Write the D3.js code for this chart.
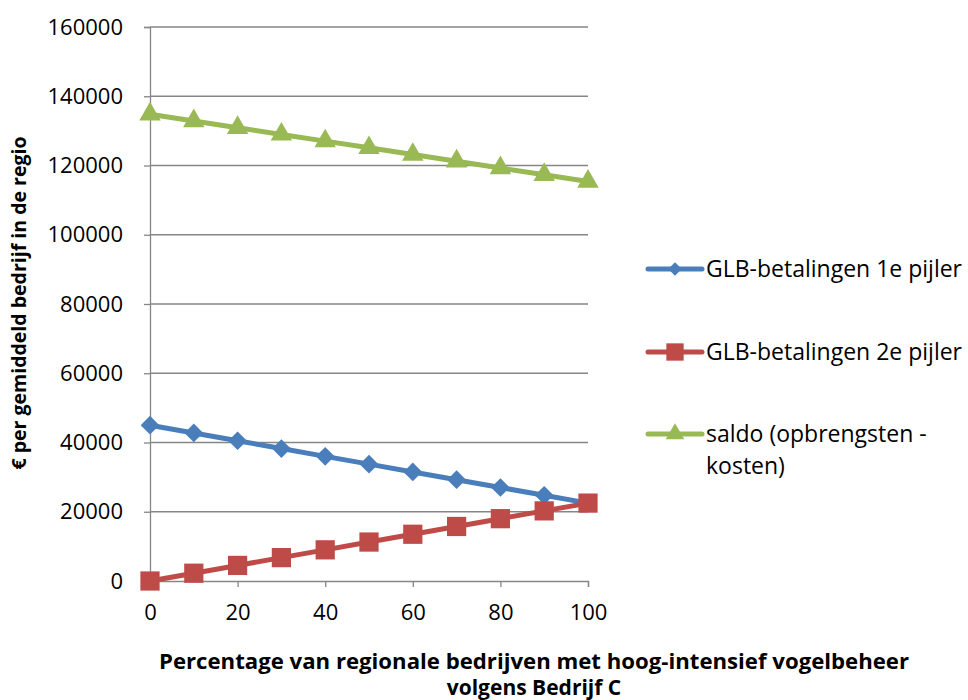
<!DOCTYPE html>
<html>
<head>
<meta charset="utf-8">
<script src="https://cdn.jsdelivr.net/npm/d3@7/dist/d3.min.js"></script>
<style>
  body { margin: 0; background: #fff; }
  svg { display: block; }
  svg text { font-family: "Open Sans", "Liberation Sans", sans-serif; }
</style>
</head>
<body>
<svg id="chart" width="968" height="700"></svg>
<script>
// Share of regional farms with high-intensity bird management (%)
const percentages = [0, 10, 20, 30, 40, 50, 60, 70, 80, 90, 100];
// CAP payments, pillar 1 (EUR per average farm)
const pillar1 = [45000, 42750, 40500, 38250, 36000, 33750, 31500, 29250, 27000, 24750, 22500];
// CAP payments, pillar 2 (EUR per average farm)
const pillar2 = [0, 2250, 4500, 6750, 9000, 11250, 13500, 15750, 18000, 20250, 22500];
// Balance: revenue minus costs (EUR per average farm)
const saldo = [134800, 132860, 130920, 128980, 127040, 125100, 123160, 121220, 119280, 117340, 115400];

const yTicks = [0, 20000, 40000, 60000, 80000, 100000, 120000, 140000, 160000];
const xTicks = [0, 20, 40, 60, 80, 100];

const seriesNames = ["GLB-betalingen 1e pijler", "GLB-betalingen 2e pijler", "saldo (opbrengsten -"];
const seriesList = [
  { name: seriesNames[0], values: pillar1, color: "#4a7ebb", symbol: d3.symbolSquare, size: 175, rot: 45, legendSize: 90 },
  { name: seriesNames[1], values: pillar2, color: "#be4b48", symbol: d3.symbolSquare, size: 370, rot: 0, legendSize: 300 },
  { name: seriesNames[2], values: saldo,   color: "#98b954", symbol: d3.symbolTriangle, size: 200, rot: 0, legendSize: 150 }
];

const svg = d3.select("#chart");
const plot = { left: 150, right: 588, top: 27, bottom: 581 };

const x = d3.scaleLinear().domain([0, 100]).range([plot.left, plot.right]);
const y = d3.scaleLinear().domain([0, 160000]).range([plot.bottom, plot.top]);

const axisColor = "#868686";
const fontFamily = '"Open Sans", "Liberation Sans", sans-serif';

// Horizontal gridlines
svg.append("g")
  .selectAll("line")
  .data(yTicks.filter(d => d > 0))
  .join("line")
  .attr("x1", plot.left).attr("x2", plot.right)
  .attr("y1", d => y(d)).attr("y2", d => y(d))
  .attr("stroke", axisColor).attr("stroke-width", 1.3);

// Y axis
const yAxis = svg.append("g")
  .attr("transform", `translate(${plot.left},0)`)
  .call(d3.axisLeft(y).tickValues(yTicks).tickSize(6).tickPadding(21).tickFormat(d3.format("d")));
yAxis.attr("font-family", fontFamily).attr("font-size", 22);
yAxis.select(".domain").attr("stroke", axisColor).attr("stroke-width", 1.3);
yAxis.selectAll(".tick line").attr("stroke", axisColor).attr("stroke-width", 1.3);
yAxis.selectAll(".tick text").attr("fill", "#000");

// X axis
const xAxis = svg.append("g")
  .attr("transform", `translate(0,${plot.bottom})`)
  .call(d3.axisBottom(x).tickValues(xTicks).tickSize(6).tickPadding(17).tickFormat(d3.format("d")));
xAxis.attr("font-family", fontFamily).attr("font-size", 22);
xAxis.select(".domain").attr("stroke", axisColor).attr("stroke-width", 1.3);
xAxis.selectAll(".tick line").attr("stroke", axisColor).attr("stroke-width", 1.3);
xAxis.selectAll(".tick text").attr("fill", "#000");

// Axis titles
svg.append("text")
  .attr("x", 534).attr("y", 669)
  .attr("text-anchor", "middle").attr("font-size", 21).attr("font-weight", "bold")
  .attr("textLength", 750).attr("lengthAdjust", "spacingAndGlyphs")
  .text("Percentage van regionale bedrijven met hoog-intensief vogelbeheer");
svg.append("text")
  .attr("x", 534).attr("y", 695)
  .attr("text-anchor", "middle").attr("font-size", 21).attr("font-weight", "bold")
  .text("volgens Bedrijf C");
svg.append("text")
  .attr("transform", "translate(26,303) rotate(-90)")
  .attr("text-anchor", "middle").attr("font-size", 19.5).attr("font-weight", "bold")
  .text("€ per gemiddeld bedrijf in de regio");

// Series lines and markers
const line = d3.line().x((d, i) => x(percentages[i])).y(d => y(d));
seriesList.forEach(s => {
  const g = svg.append("g");
  g.append("path")
    .datum(s.values)
    .attr("d", line)
    .attr("fill", "none")
    .attr("stroke", s.color)
    .attr("stroke-width", 5)
    .attr("stroke-linejoin", "round");
  g.selectAll("path.marker")
    .data(s.values)
    .join("path")
    .attr("class", "marker")
    .attr("d", d3.symbol().type(s.symbol).size(s.size))
    .attr("transform", (d, i) => `translate(${x(percentages[i])},${y(d)}) rotate(${s.rot})`)
    .attr("fill", s.color);
});

// Legend
const legendY = [269, 352, 434];
seriesList.forEach((s, i) => {
  const g = svg.append("g").attr("transform", `translate(648,${legendY[i]})`);
  g.append("line").attr("x1", 0).attr("x2", 54).attr("y1", 0).attr("y2", 0)
    .attr("stroke", s.color).attr("stroke-width", 5).attr("stroke-linecap", "round");
  g.append("path")
    .attr("d", d3.symbol().type(s.symbol).size(s.legendSize))
    .attr("transform", `translate(27,0) rotate(${s.rot})`)
    .attr("fill", s.color);
  g.append("text").attr("x", 58).attr("y", 8).attr("font-size", 23).attr("fill", "#000").text(s.name);
});
svg.append("text").attr("x", 706).attr("y", 474).attr("font-size", 23).attr("fill", "#000").text("kosten)");
</script>
</body>
</html>
